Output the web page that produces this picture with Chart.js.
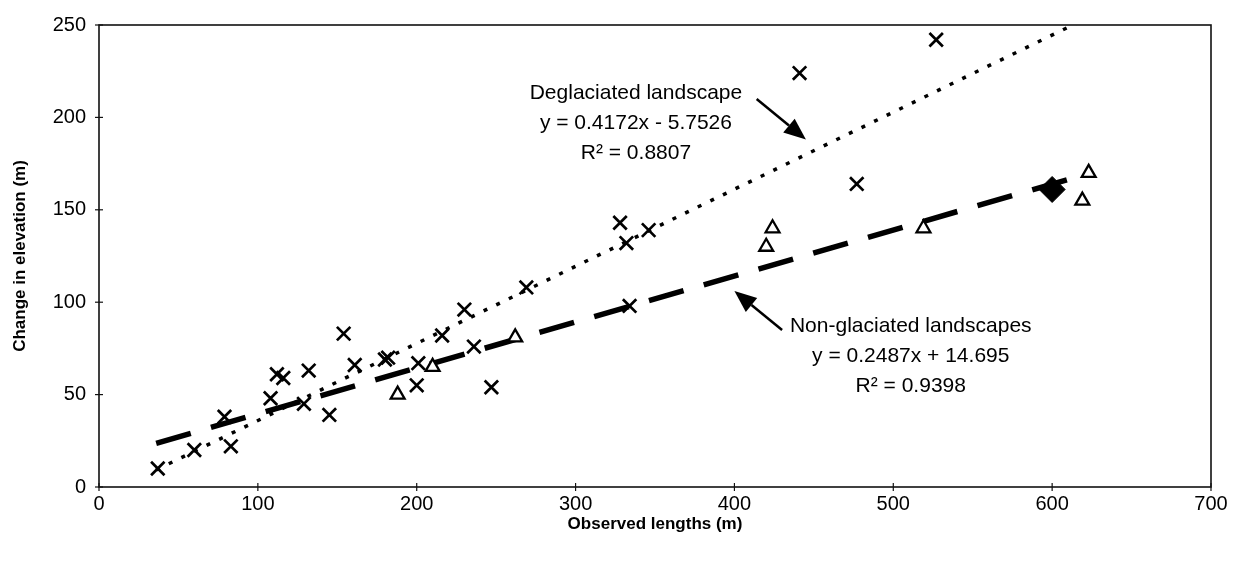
<!DOCTYPE html>
<html>
<head>
<meta charset="utf-8">
<script src="https://cdn.jsdelivr.net/npm/chart.js@4.4.1/dist/chart.umd.min.js"></script>
<style>
  html, body { margin: 0; padding: 0; background: #fff; }
  #wrap { width: 1237px; height: 561px; }
</style>
</head>
<body>
<div id="wrap"><canvas id="c" width="1237" height="561"></canvas></div>
<script>
// ---- Data ----
const degX = [37, 60, 79, 83, 108, 112, 116, 132, 129, 145, 154, 161, 180, 182, 200, 201, 216, 230, 236, 247, 269, 328, 332, 346, 334, 441, 527, 477];
const degY = [10, 20, 38, 22, 48, 61, 59, 63, 45, 39, 83, 66, 69, 70, 55, 67, 82, 96, 76, 54, 108, 143, 132, 139, 98, 224, 242, 164];
const nonX = [188, 210, 262, 420, 424, 519, 619, 623];
const nonY = [50, 65, 81, 130, 140, 140, 155, 170];
const specX = [600];
const specY = [161];

// Trendline equations shown on the chart, and the x span they cover
const trendSlope = [0.4172, 0.2487];
const trendIntercept = [-5.7526, 14.695];
const trendSpan = [36, 623];

// Ticks
const xTicks = [0, 100, 200, 300, 400, 500, 600, 700];
const yTicks = [0, 50, 100, 150, 200, 250];

// Annotation texts (anchor positions in data units)
const degText = ["Deglaciated landscape", "y = 0.4172x - 5.7526", "R\u00B2 = 0.8807"];
const degTextPos = [338, 213];
const degArrow = [414, 210, 445, 188];
const nonText = ["Non-glaciated landscapes", "y = 0.2487x + 14.695", "R\u00B2 = 0.9398"];
const nonTextPos = [511, 87];
const nonArrow = [430, 85, 400, 106];

const toPts = (xs, ys) => xs.map((x, i) => ({x: x, y: ys[i]}));
const trendPts = k => trendSpan.map(x => ({x: x, y: trendSlope[k] * x + trendIntercept[k]}));

const FONT = "'Liberation Sans', Arial, sans-serif";

const framePlugin = {
  id: 'frame',
  afterDraw(chart) {
    const {ctx, chartArea: a, scales} = chart;
    ctx.save();
    ctx.strokeStyle = '#111';
    ctx.lineWidth = 1.6;
    ctx.strokeRect(a.left, a.top, a.right - a.left, a.bottom - a.top);
    ctx.lineWidth = 1.2;
    xTicks.forEach(v => {
      const px = scales.x.getPixelForValue(v);
      ctx.beginPath(); ctx.moveTo(px, a.bottom - 4); ctx.lineTo(px, a.bottom + 4); ctx.stroke();
    });
    yTicks.forEach(v => {
      const py = scales.y.getPixelForValue(v);
      ctx.beginPath(); ctx.moveTo(a.left - 4, py); ctx.lineTo(a.left + 4, py); ctx.stroke();
    });
    ctx.restore();
  },
  afterDatasetsDraw(chart) {
    const {ctx, scales} = chart;
    const X = v => scales.x.getPixelForValue(v);
    const Y = v => scales.y.getPixelForValue(v);
    ctx.save();
    ctx.fillStyle = '#000';
    ctx.font = "21px " + FONT;
    ctx.textAlign = 'center';
    ctx.textBaseline = 'middle';
    const lineGap = 30;
    degText.forEach((t, i) => ctx.fillText(t, X(degTextPos[0]), Y(degTextPos[1]) + i * lineGap));
    nonText.forEach((t, i) => ctx.fillText(t, X(nonTextPos[0]), Y(nonTextPos[1]) + i * lineGap));
    const arrow = (arr) => {
      const x1 = X(arr[0]), y1 = Y(arr[1]), x2 = X(arr[2]), y2 = Y(arr[3]);
      const ang = Math.atan2(y2 - y1, x2 - x1);
      const hl = 22, hw = 9;
      const bx = x2 - hl * Math.cos(ang), by = y2 - hl * Math.sin(ang);
      ctx.strokeStyle = '#000';
      ctx.lineWidth = 2.5;
      ctx.beginPath(); ctx.moveTo(x1, y1); ctx.lineTo(bx, by); ctx.stroke();
      ctx.beginPath();
      ctx.moveTo(x2, y2);
      ctx.lineTo(bx + hw * Math.sin(ang), by - hw * Math.cos(ang));
      ctx.lineTo(bx - hw * Math.sin(ang), by + hw * Math.cos(ang));
      ctx.closePath(); ctx.fill();
    };
    arrow(degArrow);
    arrow(nonArrow);
    ctx.restore();
  }
};

const PAD_LEFT = 99, PAD_TOP = 21, PAD_RIGHT = 26, X_AXIS_H = 74;

new Chart(document.getElementById('c'), {
  type: 'scatter',
  data: {
    datasets: [
      {
        label: 'Deglaciated trend', data: trendPts(0), showLine: true,
        borderColor: '#000', borderWidth: 3.5, borderDash: [4, 10], pointRadius: 0, fill: false, order: 5
      },
      {
        label: 'Non-glaciated trend', data: trendPts(1), showLine: true,
        borderColor: '#000', borderWidth: 5.5, borderDash: [36, 21], pointRadius: 0, fill: false, order: 4
      },
      {
        label: 'Deglaciated', data: toPts(degX, degY), pointStyle: 'crossRot',
        radius: 9.5, borderColor: '#000', borderWidth: 2.7, order: 1
      },
      {
        label: 'Non-glaciated', data: toPts(nonX, nonY), pointStyle: 'triangle',
        radius: 8, borderColor: '#000', backgroundColor: '#fff', borderWidth: 2.3, order: 2
      },
      {
        label: 'Special', data: toPts(specX, specY), pointStyle: 'rectRot',
        radius: 13, borderColor: '#000', backgroundColor: '#000', borderWidth: 1, order: 3
      }
    ]
  },
  options: {
    responsive: false,
    animation: false,
    devicePixelRatio: 1,
    layout: { padding: { left: 0, top: PAD_TOP, right: PAD_RIGHT, bottom: 0 } },
    plugins: { legend: { display: false }, tooltip: { enabled: false } },
    scales: {
      x: {
        type: 'linear', min: 0, max: 700,
        afterBuildTicks: s => { s.ticks = xTicks.map(v => ({value: v})); },
        afterFit: s => { s.height = X_AXIS_H; },
        grid: { display: false, drawTicks: false }, border: { display: false },
        ticks: { color: '#000', font: { family: FONT, size: 20 }, padding: 5, maxRotation: 0 },
        title: { display: true, text: 'Observed lengths (m)', color: '#000',
                 font: { family: FONT, size: 17, weight: 'bold' }, padding: { top: 0, bottom: 26 } }
      },
      y: {
        type: 'linear', min: 0, max: 250,
        afterBuildTicks: s => { s.ticks = yTicks.map(v => ({value: v})); },
        afterFit: s => { s.width = PAD_LEFT; },
        grid: { display: false, drawTicks: false }, border: { display: false },
        ticks: { color: '#000', font: { family: FONT, size: 20 }, padding: 13 },
        title: { display: true, text: 'Change in elevation (m)', color: '#000',
                 font: { family: FONT, size: 17, weight: 'bold' }, padding: { top: 10, bottom: 0 } }
      }
    }
  },
  plugins: [framePlugin]
});
</script>
</body>
</html>
